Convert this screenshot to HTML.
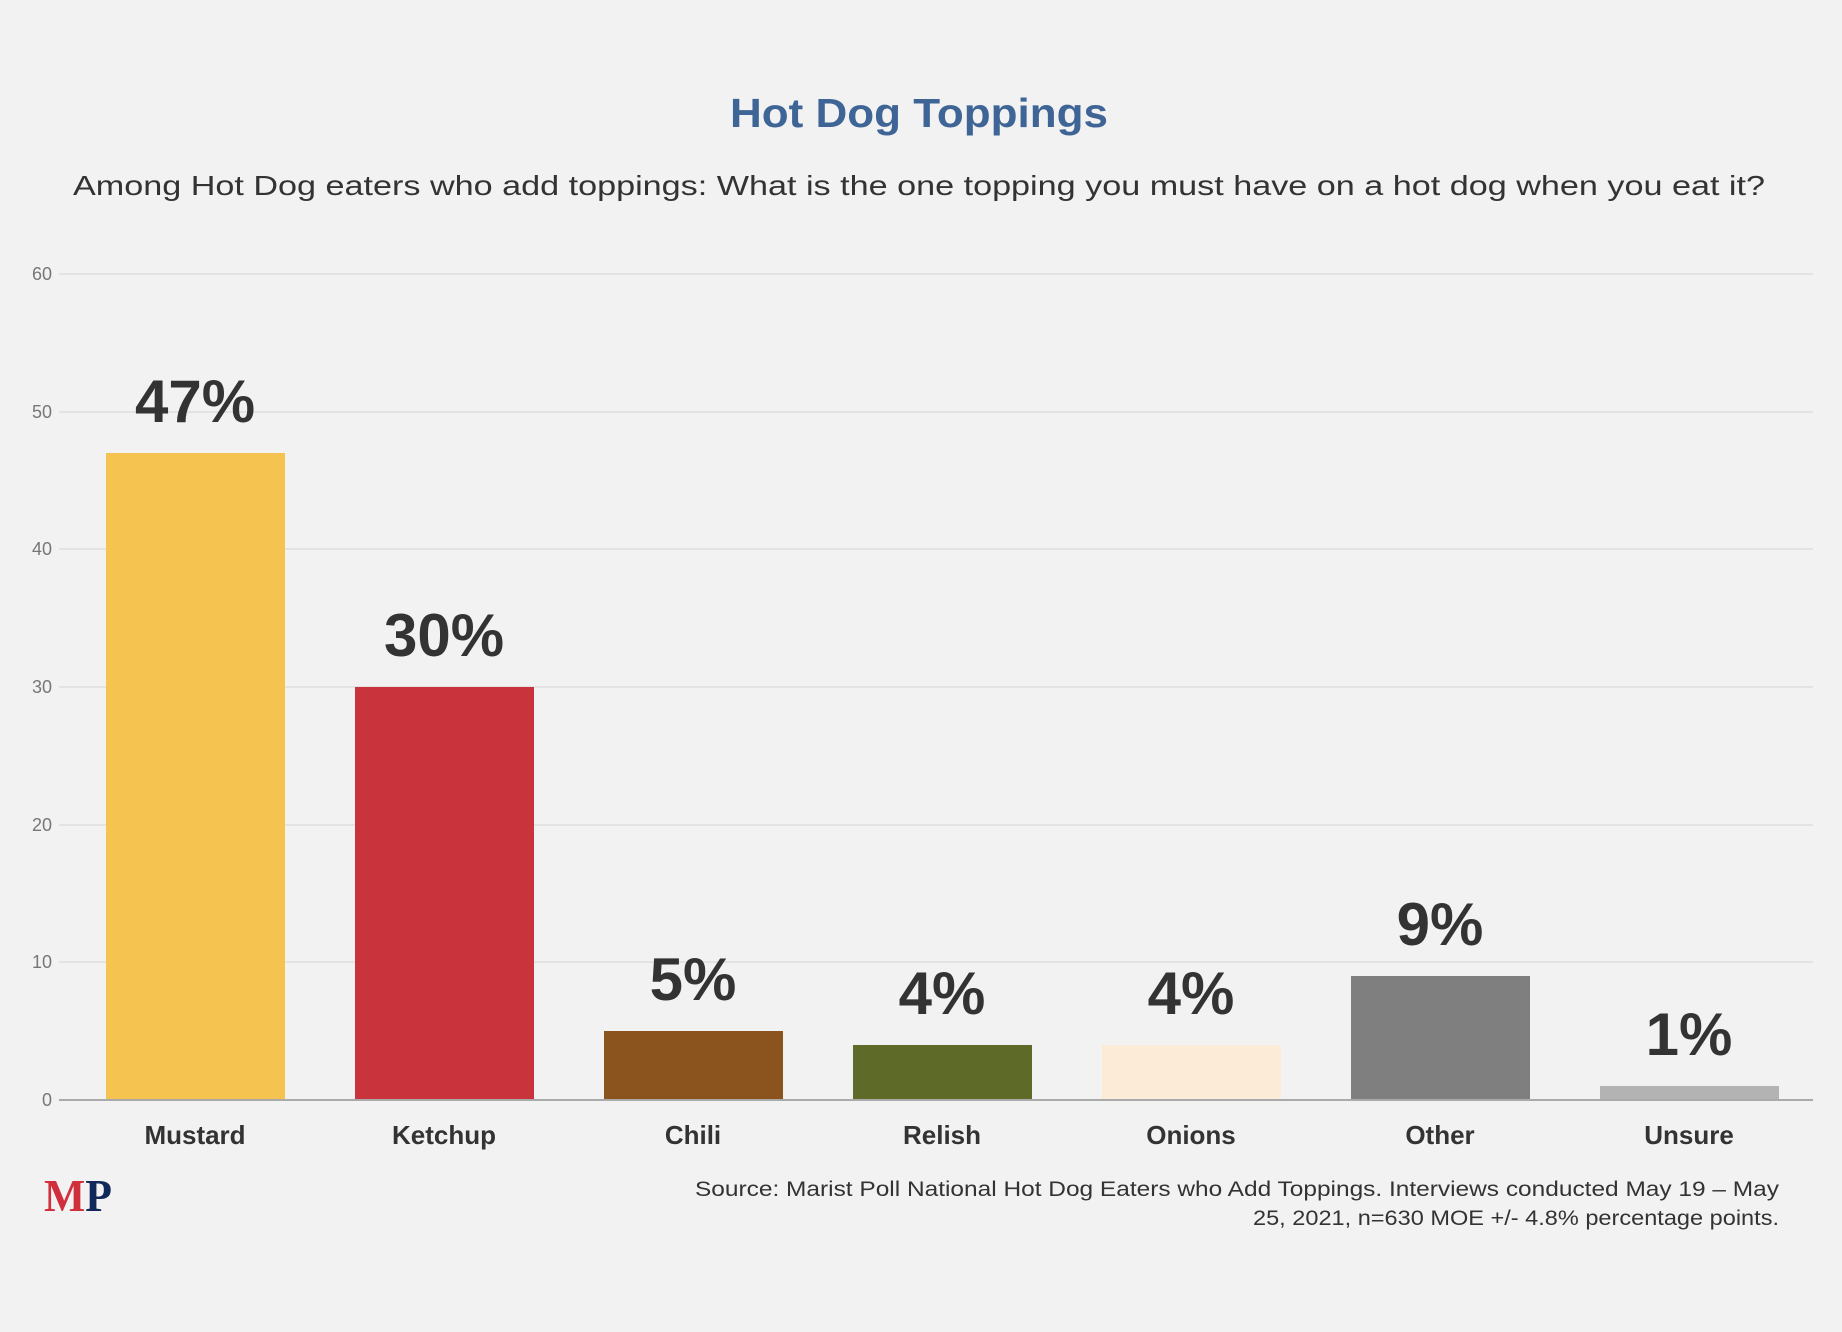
<!DOCTYPE html>
<html><head><meta charset="utf-8"><style>
html,body{margin:0;padding:0;background:#f2f2f2;}
svg{display:block;}
</style></head><body>
<svg width="1842" height="1332" viewBox="0 0 1842 1332" xmlns="http://www.w3.org/2000/svg" font-family="Liberation Sans, Arial, sans-serif">
<rect width="1842" height="1332" fill="#f2f2f2"/>
<text x="919" y="127" text-anchor="middle" font-size="41" font-weight="bold" fill="#3f6596" textLength="378" lengthAdjust="spacingAndGlyphs">Hot Dog Toppings</text>
<text x="919" y="195" text-anchor="middle" font-size="28" fill="#333" textLength="1692" lengthAdjust="spacingAndGlyphs">Among Hot Dog eaters who add toppings: What is the one topping you must have on a hot dog when you eat it?</text>
<g stroke="#e3e3e3" stroke-width="2">
<line x1="59" x2="1813" y1="274" y2="274"/>
<line x1="59" x2="1813" y1="412" y2="412"/>
<line x1="59" x2="1813" y1="549" y2="549"/>
<line x1="59" x2="1813" y1="687" y2="687"/>
<line x1="59" x2="1813" y1="825" y2="825"/>
<line x1="59" x2="1813" y1="962" y2="962"/>
</g>
<g font-size="18" fill="#777" text-anchor="end">
<text x="52" y="280">60</text><text x="52" y="418">50</text><text x="52" y="555">40</text>
<text x="52" y="693">30</text><text x="52" y="831">20</text><text x="52" y="968">10</text><text x="52" y="1106">0</text>
</g>
<rect x="106" y="453" width="179" height="647" fill="#f5c350"/>
<rect x="355" y="687" width="179" height="413" fill="#c9333c"/>
<rect x="604" y="1031" width="179" height="69" fill="#8b541e"/>
<rect x="853" y="1045" width="179" height="55" fill="#5e6a28"/>
<rect x="1102" y="1045" width="179" height="55" fill="#fcebd6"/>
<rect x="1351" y="976" width="179" height="124" fill="#7f7f7f"/>
<rect x="1600" y="1086" width="179" height="14" fill="#b3b3b3"/>
<line x1="59" x2="1813" y1="1100" y2="1100" stroke="#aaa" stroke-width="2"/>
<g font-size="60" font-weight="bold" fill="#333" text-anchor="middle">
<text x="195" y="422">47%</text><text x="444" y="656">30%</text><text x="693" y="1000">5%</text>
<text x="942" y="1014">4%</text><text x="1191" y="1014">4%</text><text x="1440" y="945">9%</text><text x="1689" y="1055">1%</text>
</g>
<g font-size="26" font-weight="bold" fill="#333" text-anchor="middle">
<text x="195" y="1144">Mustard</text><text x="444" y="1144">Ketchup</text><text x="693" y="1144">Chili</text>
<text x="942" y="1144">Relish</text><text x="1191" y="1144">Onions</text><text x="1440" y="1144">Other</text><text x="1689" y="1144">Unsure</text>
</g>
<text x="1779" y="1196" text-anchor="end" font-size="21" fill="#333" textLength="1084" lengthAdjust="spacingAndGlyphs">Source: Marist Poll National Hot Dog Eaters who Add Toppings. Interviews conducted May 19 – May</text>
<text x="1779" y="1225" text-anchor="end" font-size="21" fill="#333" textLength="526" lengthAdjust="spacingAndGlyphs">25, 2021, n=630 MOE +/- 4.8% percentage points.</text>
<text x="44" y="1211" font-family="Liberation Serif, serif" font-size="46" font-weight="bold" textLength="68" lengthAdjust="spacingAndGlyphs"><tspan fill="#d0303c">M</tspan><tspan fill="#13285a">P</tspan></text>
</svg>
</body></html>
